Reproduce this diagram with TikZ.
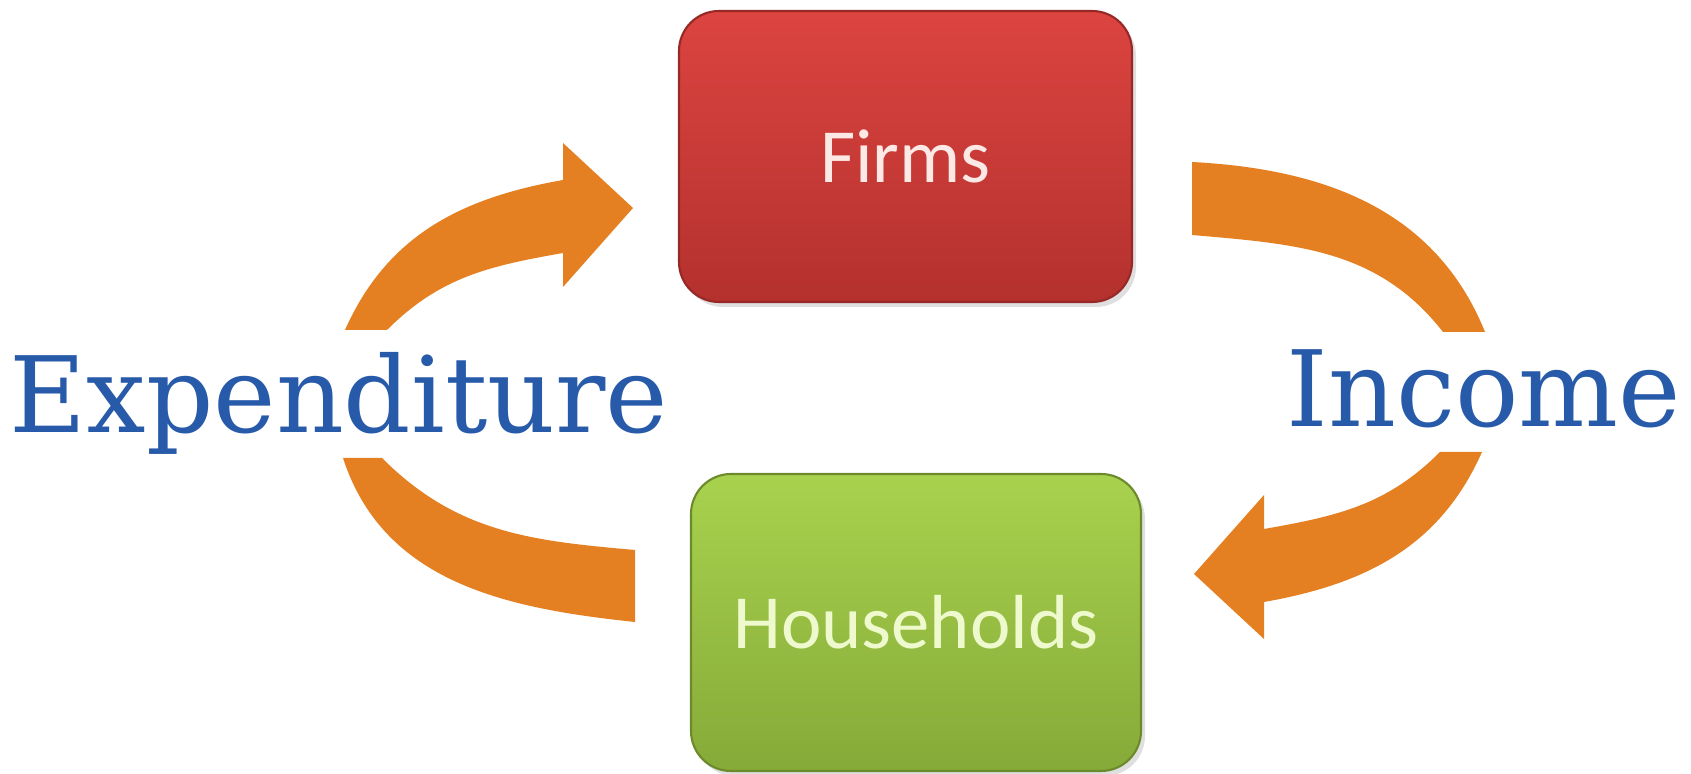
\documentclass[tikz,border=0pt]{standalone}
\usepackage{fontspec}
\usepackage{xcolor}
\usepackage{tikz}
\usetikzlibrary{
	arrows.meta,
	positioning,
	shadows
}
\newfontfamily\boxfont{Carlito}
\newfontfamily\flowfont{DejaVu Serif}
\definecolor{ArrowOrange}{RGB}{229,128,34}
\definecolor{FirmsTop}{RGB}{220,68,64}
\definecolor{FirmsBottom}{RGB}{180,49,46}
\definecolor{FirmsEdge}{RGB}{150,40,38}
\definecolor{FirmsText}{RGB}{252,232,228}
\definecolor{HouseTop}{RGB}{168,210,78}
\definecolor{HouseBottom}{RGB}{134,170,56}
\definecolor{HouseEdge}{RGB}{108,138,44}
\definecolor{HouseText}{RGB}{238,250,205}
\definecolor{FlowBlue}{RGB}{40,90,170}

\begin{document}
\begin{tikzpicture}[
		sector/.style={rounded corners=0.4cm, inner sep=0pt, line width=0.6pt,
			drop shadow={opacity=0.25, shadow xshift=0.04cm, shadow yshift=-0.05cm},
			font=\boxfont\fontsize{21.8}{26}\selectfont},
		flowarrow/.style={fill=ArrowOrange},
		flowlabel/.style={text=FlowBlue, inner sep=0pt, font=\flowfont\fontsize{30}{34}\selectfont}
	]
			\useasboundingbox (0,0) rectangle (16.91,7.74);
			\node[sector, minimum width=4.53cm, minimum height=2.91cm, top color=FirmsTop, bottom color=FirmsBottom, draw=FirmsEdge, text=FirmsText] (firms) at (9.055,6.175) {Firms};
			\node[sector, minimum width=4.50cm, minimum height=2.97cm, top color=HouseTop, bottom color=HouseBottom, draw=HouseEdge, text=HouseText] (households) at (9.16,1.515) {Households};
			\node[flowlabel, anchor=base] (expenditure) at (3.39,3.41) {Expenditure};
			\node[flowlabel, anchor=base] (income) at (14.84,3.47) {Income};
			\fill[flowarrow] (3.45,4.44) to[out=66,in=190] (5.63,5.94) -- (5.63,6.31) -- (6.33,5.66) -- (5.63,4.87) -- (5.63,5.21) to[out=190,in=45] (3.87,4.44) -- cycle;
			\fill[flowarrow] (3.43,3.16) -- (3.82,3.16) to[out=-45,in=175] (6.35,2.24) -- (6.35,1.52) to[out=174,in=-72] (3.43,3.16) -- cycle;
			\fill[flowarrow] (11.92,6.12) to[out=-3,in=112] (14.85,4.42) -- (14.43,4.42) to[out=128,in=-5] (11.92,5.39) -- cycle;
			\fill[flowarrow] (14.82,3.22) to[out=-114,in=10] (12.64,1.72) -- (12.64,1.35) -- (11.94,2.00) -- (12.64,2.79) -- (12.64,2.45) to[out=10,in=-135] (14.40,3.22) -- cycle;
		\end{tikzpicture}
\end{document}
